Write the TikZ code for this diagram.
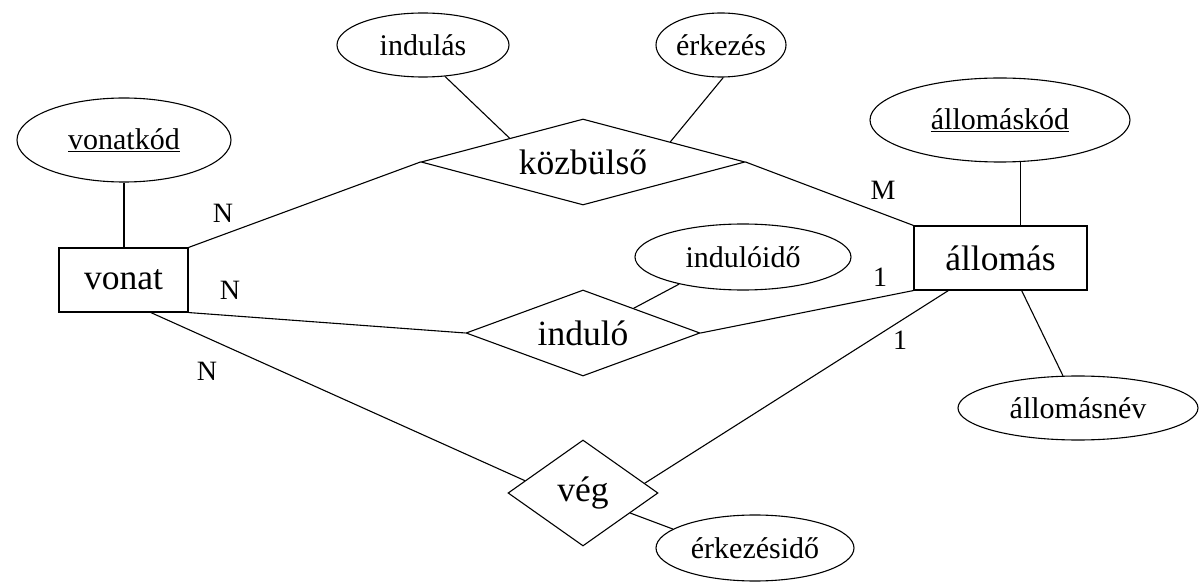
\documentclass[tikz,border=0pt]{standalone}
\usepackage{fontspec}
\setmainfont{Liberation Serif}
\usetikzlibrary{shapes.geometric}
\begin{document}
\begin{tikzpicture}[x=1pt,y=-1pt,
  every node/.style={line width=1.1pt},
  attr/.style={draw, ellipse, inner sep=0pt, font=\fontsize{30}{32}\selectfont},
  ent/.style={draw, rectangle, inner sep=0pt, font=\fontsize{35.5}{40}\selectfont},
  rel/.style={draw, diamond, inner sep=0pt, font=\fontsize{35.5}{40}\selectfont},
  card/.style={inner sep=0pt, font=\fontsize{28}{30}\selectfont},
  conn/.style={line width=1.1pt}]
\useasboundingbox (0,0) rectangle (1200,585);
% attributes
\node[attr, minimum width=172, minimum height=64] (indulas) at (423,45) {indulás};
\node[attr, minimum width=130, minimum height=64] (erkezes) at (721,45) {érkezés};
\node[attr, minimum width=214, minimum height=84] (vonatkod) at (124,140) {\underline{vonatkód}};
\node[attr, minimum width=260, minimum height=84] (allomaskod) at (1000,120) {\underline{állomáskód}};
\node[attr, minimum width=216, minimum height=66] (induloido) at (743,257) {indulóidő};
\node[attr, minimum width=240, minimum height=64] (allomasnev) at (1078,408) {állomásnév};
\node[attr, minimum width=198, minimum height=66] (erkezesido) at (755,548) {érkezésidő};
% entities
\node[ent, minimum width=129, minimum height=64] (vonat) at (123.5,280) {vonat};
\node[ent, minimum width=173, minimum height=64] (allomas) at (1000.5,258) {állomás};
% relationships
\node[rel, aspect=3.77, minimum width=324, minimum height=86] (kozb) at (583,162) {közbülső};
\node[rel, aspect=2.72, minimum width=234, minimum height=86] (indulo) at (583,333) {induló};
\node[rel, aspect=1.42, minimum width=150, minimum height=106] (veg) at (583,493) {vég};
% connectors
\draw[conn] (vonatkod.south) -- (vonatkod.south |- vonat.north);
\draw[conn] (allomaskod.-64) -- (allomaskod.-64 |- allomas.north);
\draw[conn] (allomas.-57.6) -- (allomasnev.115);
\draw[conn] (indulas.-55) -- (kozb.162);
\draw[conn] (erkezes.-86) -- (kozb.13);
\draw[conn] (induloido.203) -- (indulo.26);
\draw[conn] (veg.-23) -- (erkezesido.167);
\draw[conn] (vonat.north east) -- (kozb.west);
\draw[conn] (kozb.east) -- (allomas.north west);
\draw[conn] (vonat.south east) -- (indulo.west);
\draw[conn] (indulo.east) -- (allomas.south west);
\draw[conn] (vonat.-50) -- (veg.168);
\draw[conn] (veg.9) -- (allomas.-148.5);
% cardinalities
\node[card] (c1) at (223,213) {N};
\node[card] (c2) at (230,290) {N};
\node[card] (c3) at (207,371) {N};
\node[card] (c4) at (883,190) {M};
\node[card] (c5) at (880,277) {1};
\node[card] (c6) at (900,340) {1};
\end{tikzpicture}
\end{document}
